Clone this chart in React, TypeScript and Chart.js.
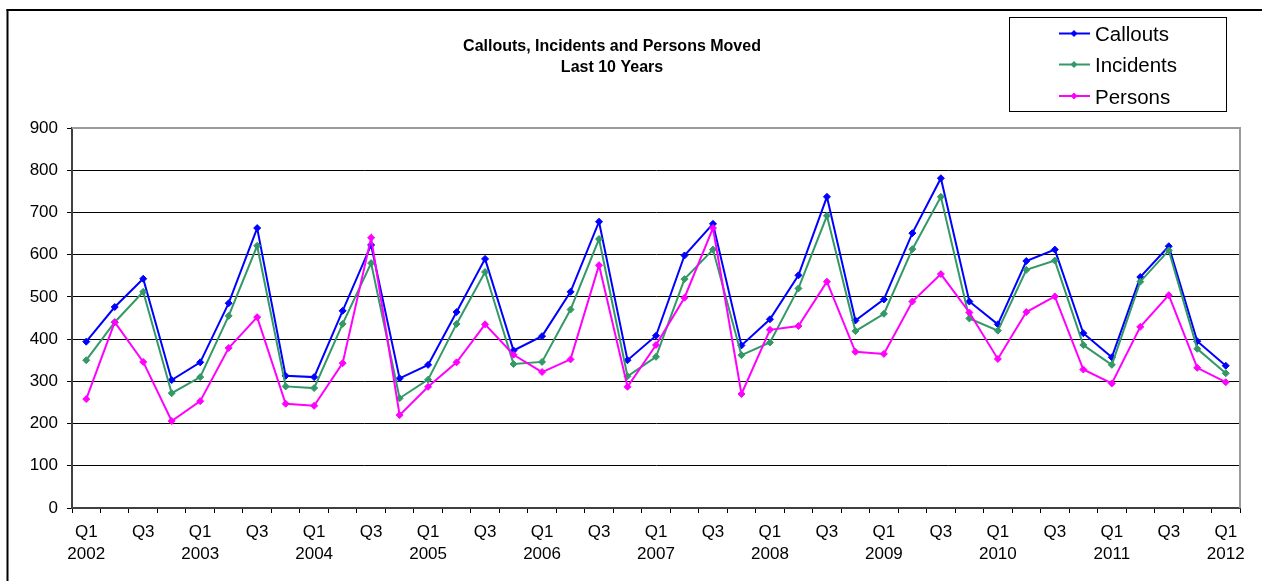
import React, { useEffect, useRef } from "react";
import { Chart, registerables } from "chart.js";

Chart.register(...registerables);

const categories = [
  "Q1 2002", "Q2 2002", "Q3 2002", "Q4 2002",
  "Q1 2003", "Q2 2003", "Q3 2003", "Q4 2003",
  "Q1 2004", "Q2 2004", "Q3 2004", "Q4 2004",
  "Q1 2005", "Q2 2005", "Q3 2005", "Q4 2005",
  "Q1 2006", "Q2 2006", "Q3 2006", "Q4 2006",
  "Q1 2007", "Q2 2007", "Q3 2007", "Q4 2007",
  "Q1 2008", "Q2 2008", "Q3 2008", "Q4 2008",
  "Q1 2009", "Q2 2009", "Q3 2009", "Q4 2009",
  "Q1 2010", "Q2 2010", "Q3 2010", "Q4 2010",
  "Q1 2011", "Q2 2011", "Q3 2011", "Q4 2011",
  "Q1 2012",
];

const callouts = [
  394, 476, 543, 303, 345, 485, 663, 313, 310, 467, 623, 307,
  339, 464, 590, 373, 407, 512, 678, 350, 408, 598, 673, 385,
  447, 551, 737, 444, 494, 651, 781, 489, 435, 585, 612, 414,
  357, 547, 620, 395, 337,
];

const incidents = [
  350, 440, 512, 272, 310, 455, 621, 288, 284, 436, 580, 260,
  304, 436, 559, 341, 346, 470, 637, 312, 358, 542, 612, 362,
  392, 520, 692, 419, 460, 613, 737, 449, 420, 564, 586, 386,
  339, 536, 610, 377, 319,
];

const persons = [
  258, 440, 346, 206, 253, 379, 452, 247, 242, 343, 640, 220,
  287, 345, 435, 363, 322, 352, 575, 287, 386, 498, 663, 270,
  422, 431, 536, 370, 365, 489, 554, 463, 353, 464, 501, 328,
  295, 429, 504, 332, 298,
];

const seriesNames = ["Callouts", "Incidents", "Persons"];
const seriesColors = ["#0000FF", "#339966", "#FF00FF"];
const titleLines = ["Callouts, Incidents and Persons Moved", "Last 10 Years"];
const yTicks = { min: 0, max: 900, step: 100 };

const FONT = '"Liberation Sans", Arial, sans-serif';

const decorPlugin = {
  id: "decor",
  afterDraw(chart: any) {
    const ctx = chart.ctx;
    const area = chart.chartArea;
    ctx.save();
    // outer frame (left and top visible)
    ctx.fillStyle = "#000";
    ctx.fillRect(6.5, 9, 2, 600);
    ctx.fillRect(6.5, 9, 1300, 2);

    // plot area border (top & right, gray)
    ctx.strokeStyle = "#9a9a9a";
    ctx.lineWidth = 2;
    ctx.beginPath();
    ctx.moveTo(area.left, area.top);
    ctx.lineTo(area.right, area.top);
    ctx.lineTo(area.right, area.bottom);
    ctx.stroke();

    // title
    ctx.fillStyle = "#000";
    ctx.font = "bold 16px " + FONT;
    ctx.textAlign = "center";
    ctx.textBaseline = "alphabetic";
    ctx.fillText(titleLines[0], 612, 50.5);
    ctx.fillText(titleLines[1], 612, 71.5);

    // legend
    ctx.strokeStyle = "#000";
    ctx.lineWidth = 1;
    ctx.strokeRect(1009.5, 17.5, 217, 94);
    const rows = [33.5, 64.5, 96];
    chart.data.datasets.forEach((ds: any, i: number) => {
      const y = rows[i];
      ctx.strokeStyle = ds.borderColor;
      ctx.lineWidth = 2;
      ctx.beginPath();
      ctx.moveTo(1059, y);
      ctx.lineTo(1090, y);
      ctx.stroke();
      ctx.fillStyle = ds.borderColor;
      ctx.beginPath();
      ctx.moveTo(1074, y - 3.5);
      ctx.lineTo(1077.5, y);
      ctx.lineTo(1074, y + 3.5);
      ctx.lineTo(1070.5, y);
      ctx.closePath();
      ctx.fill();
      ctx.fillStyle = "#000";
      ctx.font = "20.5px " + FONT;
      ctx.textAlign = "left";
      ctx.textBaseline = "alphabetic";
      ctx.fillText(ds.label, 1095, y + 7.5);
    });
    ctx.restore();
  },
};

export default function App() {
  const ref = useRef<HTMLCanvasElement | null>(null);

  useEffect(() => {
    if (!ref.current) return;
    const values = [callouts, incidents, persons];
    const chart = new Chart(ref.current, {
      type: "line",
      data: {
        labels: categories,
        datasets: values.map((v, i) => ({
          label: seriesNames[i],
          data: v,
          borderColor: seriesColors[i],
          backgroundColor: seriesColors[i],
          pointBackgroundColor: seriesColors[i],
          pointBorderColor: seriesColors[i],
          pointStyle: "rectRot",
          pointRadius: 3.5,
          pointBorderWidth: 1,
          borderWidth: 2,
          tension: 0,
          fill: false,
          order: 3 - i,
        })),
      },
      options: {
        animation: false,
        responsive: false,
        maintainAspectRatio: false,
        layout: { padding: { left: 0, top: 128, right: 22, bottom: 3 } },
        plugins: {
          legend: { display: false },
          title: { display: false },
          tooltip: { enabled: false },
        },
        scales: {
          x: {
            type: "category",
            offset: true,
            grid: {
              offset: true,
              drawOnChartArea: false,
              drawTicks: true,
              tickLength: 5,
              color: "#000",
            },
            border: { display: true, color: "#404040", width: 2 },
            ticks: {
              autoSkip: false,
              maxRotation: 0,
              minRotation: 0,
              padding: 9,
              color: "#000",
              font: { family: FONT, size: 17, lineHeight: 1.25 },
              callback: (_v: any, idx: number) => {
                const [q, yr] = categories[idx].split(" ");
                if (q === "Q1") return [q, yr];
                if (q === "Q3") return [q];
                return "";
              },
            },
            afterFit: (s: any) => {
              s.height = 70;
            },
          },
          y: {
            min: yTicks.min,
            max: yTicks.max,
            grid: {
              color: "#000",
              lineWidth: 1,
              tickLength: 5,
              drawTicks: true,
            },
            border: { display: true, color: "#404040", width: 2 },
            ticks: {
              stepSize: yTicks.step,
              padding: 9,
              color: "#000",
              font: { family: FONT, size: 17 },
            },
            afterFit: (s: any) => {
              s.width = 72;
            },
          },
        },
      },
      plugins: [decorPlugin],
    });
    return () => chart.destroy();
  }, []);

  return (
    <div style={{ position: "absolute", left: 0, top: 0, width: 1262, height: 581, background: "#fff" }}>
      <canvas ref={ref} width={1262} height={581} style={{ display: "block" }} />
    </div>
  );
}
